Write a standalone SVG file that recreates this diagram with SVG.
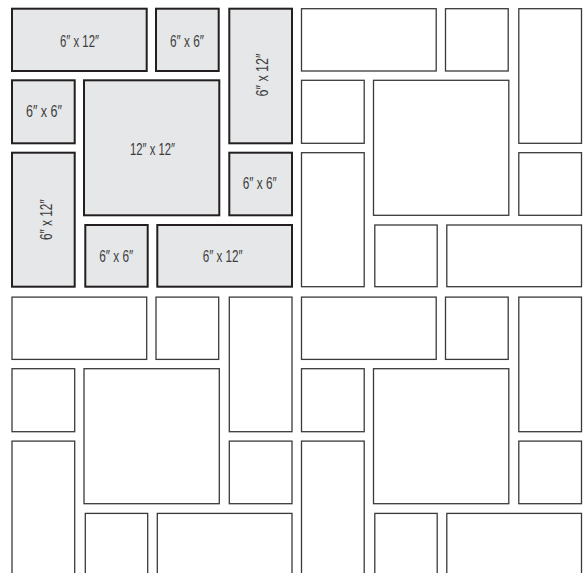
<svg xmlns="http://www.w3.org/2000/svg" width="585" height="573" viewBox="0 0 585 573">
<style>
.g rect{fill:#e6e7e8;stroke:#231f20;stroke-width:2}
.w{fill:#ffffff;stroke:#3a3a3a;stroke-width:1.3}
text{font-family:"Liberation Sans","DejaVu Sans",sans-serif;font-size:16.5px;fill:#3c3c3c;text-anchor:middle}
</style>
<rect width="585" height="573" fill="#ffffff"/>
<defs>
<g id="tile">
<rect x="12" y="8.7" width="134.7" height="62.3"/>
<rect x="156" y="8.7" width="62.7" height="62.3"/>
<rect x="229.3" y="8.7" width="62.7" height="134.6"/>
<rect x="12" y="80.3" width="62.7" height="63"/>
<rect x="84" y="80.3" width="135.3" height="135"/>
<rect x="12" y="152.7" width="62.7" height="134"/>
<rect x="229.3" y="152.7" width="62.7" height="62.6"/>
<rect x="85.3" y="225" width="62.4" height="61.7"/>
<rect x="157.3" y="225" width="134.7" height="61.7"/>
</g>
</defs>
<g id="copy-right" class="w" transform="translate(289.5,0)"><use href="#tile"/></g>
<g id="copy-bottom" class="w" transform="translate(0,288.4)"><use href="#tile"/></g>
<g id="copy-bottom-right" class="w" transform="translate(289.5,288.4)"><use href="#tile"/></g>
<g id="labelled-tile" class="g">
<g id="t1"><rect x="12" y="8.7" width="134.7" height="62.3"/><text x="79.5" y="46.7" textLength="39" lengthAdjust="spacingAndGlyphs">6″ x 12″</text></g>
<g id="t2"><rect x="156" y="8.7" width="62.7" height="62.3"/><text x="187" y="46.7" textLength="34" lengthAdjust="spacingAndGlyphs">6″ x 6″</text></g>
<g id="t3"><rect x="229.3" y="8.7" width="62.7" height="134.6"/><text transform="translate(268.3,75) rotate(-90)" textLength="43" lengthAdjust="spacingAndGlyphs">6″ x 12″</text></g>
<g id="t4"><rect x="12" y="80.3" width="62.7" height="63"/><text x="44" y="117.3" textLength="36" lengthAdjust="spacingAndGlyphs">6″ x 6″</text></g>
<g id="t5"><rect x="84" y="80.3" width="135.3" height="135"/><text x="152.5" y="155" textLength="45" lengthAdjust="spacingAndGlyphs">12″ x 12″</text></g>
<g id="t6"><rect x="12" y="152.7" width="62.7" height="134"/><text transform="translate(51.7,219.7) rotate(-90)" textLength="40.7" lengthAdjust="spacingAndGlyphs">6″ x 12″</text></g>
<g id="t7"><rect x="229.3" y="152.7" width="62.7" height="62.6"/><text x="259.7" y="189.3" textLength="34" lengthAdjust="spacingAndGlyphs">6″ x 6″</text></g>
<g id="t8"><rect x="85.3" y="225" width="62.4" height="61.7"/><text x="116.3" y="261.7" textLength="34" lengthAdjust="spacingAndGlyphs">6″ x 6″</text></g>
<g id="t9"><rect x="157.3" y="225" width="134.7" height="61.7"/><text x="222.7" y="261.7" textLength="40" lengthAdjust="spacingAndGlyphs">6″ x 12″</text></g>
</g>
</svg>
